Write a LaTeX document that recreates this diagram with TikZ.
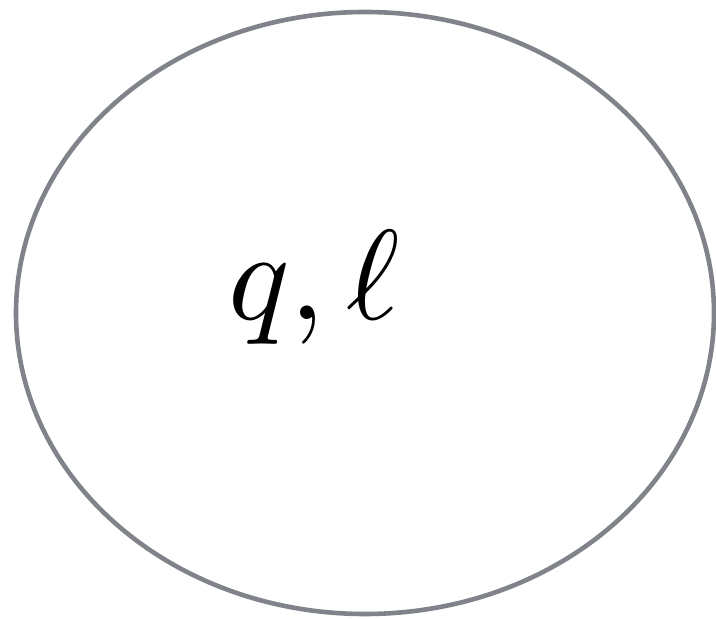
\documentclass[tikz,border=0pt]{standalone}
\usepackage{amsmath,amssymb}
\usepackage{graphicx}
\usepackage{xcolor}
\usepackage{tikz}
\usetikzlibrary{shapes.geometric}

\definecolor{rimgray}{RGB}{128,131,137}

\begin{document}
\begin{tikzpicture}[
    x=1pt, y=1pt,
    rim/.style={ellipse, draw=rimgray, line width=4.6pt,
                minimum width=698pt, minimum height=602pt, inner sep=0pt},
    lbl/.style={anchor=base, inner sep=0pt}
]
\useasboundingbox (0,0) rectangle (716,619);
\node[rim] (region) at (365,306) {};
\node[lbl] (vars)   at (314,299) {\scalebox{12.8}{$q,\ell$}};
\end{tikzpicture}
\end{document}
